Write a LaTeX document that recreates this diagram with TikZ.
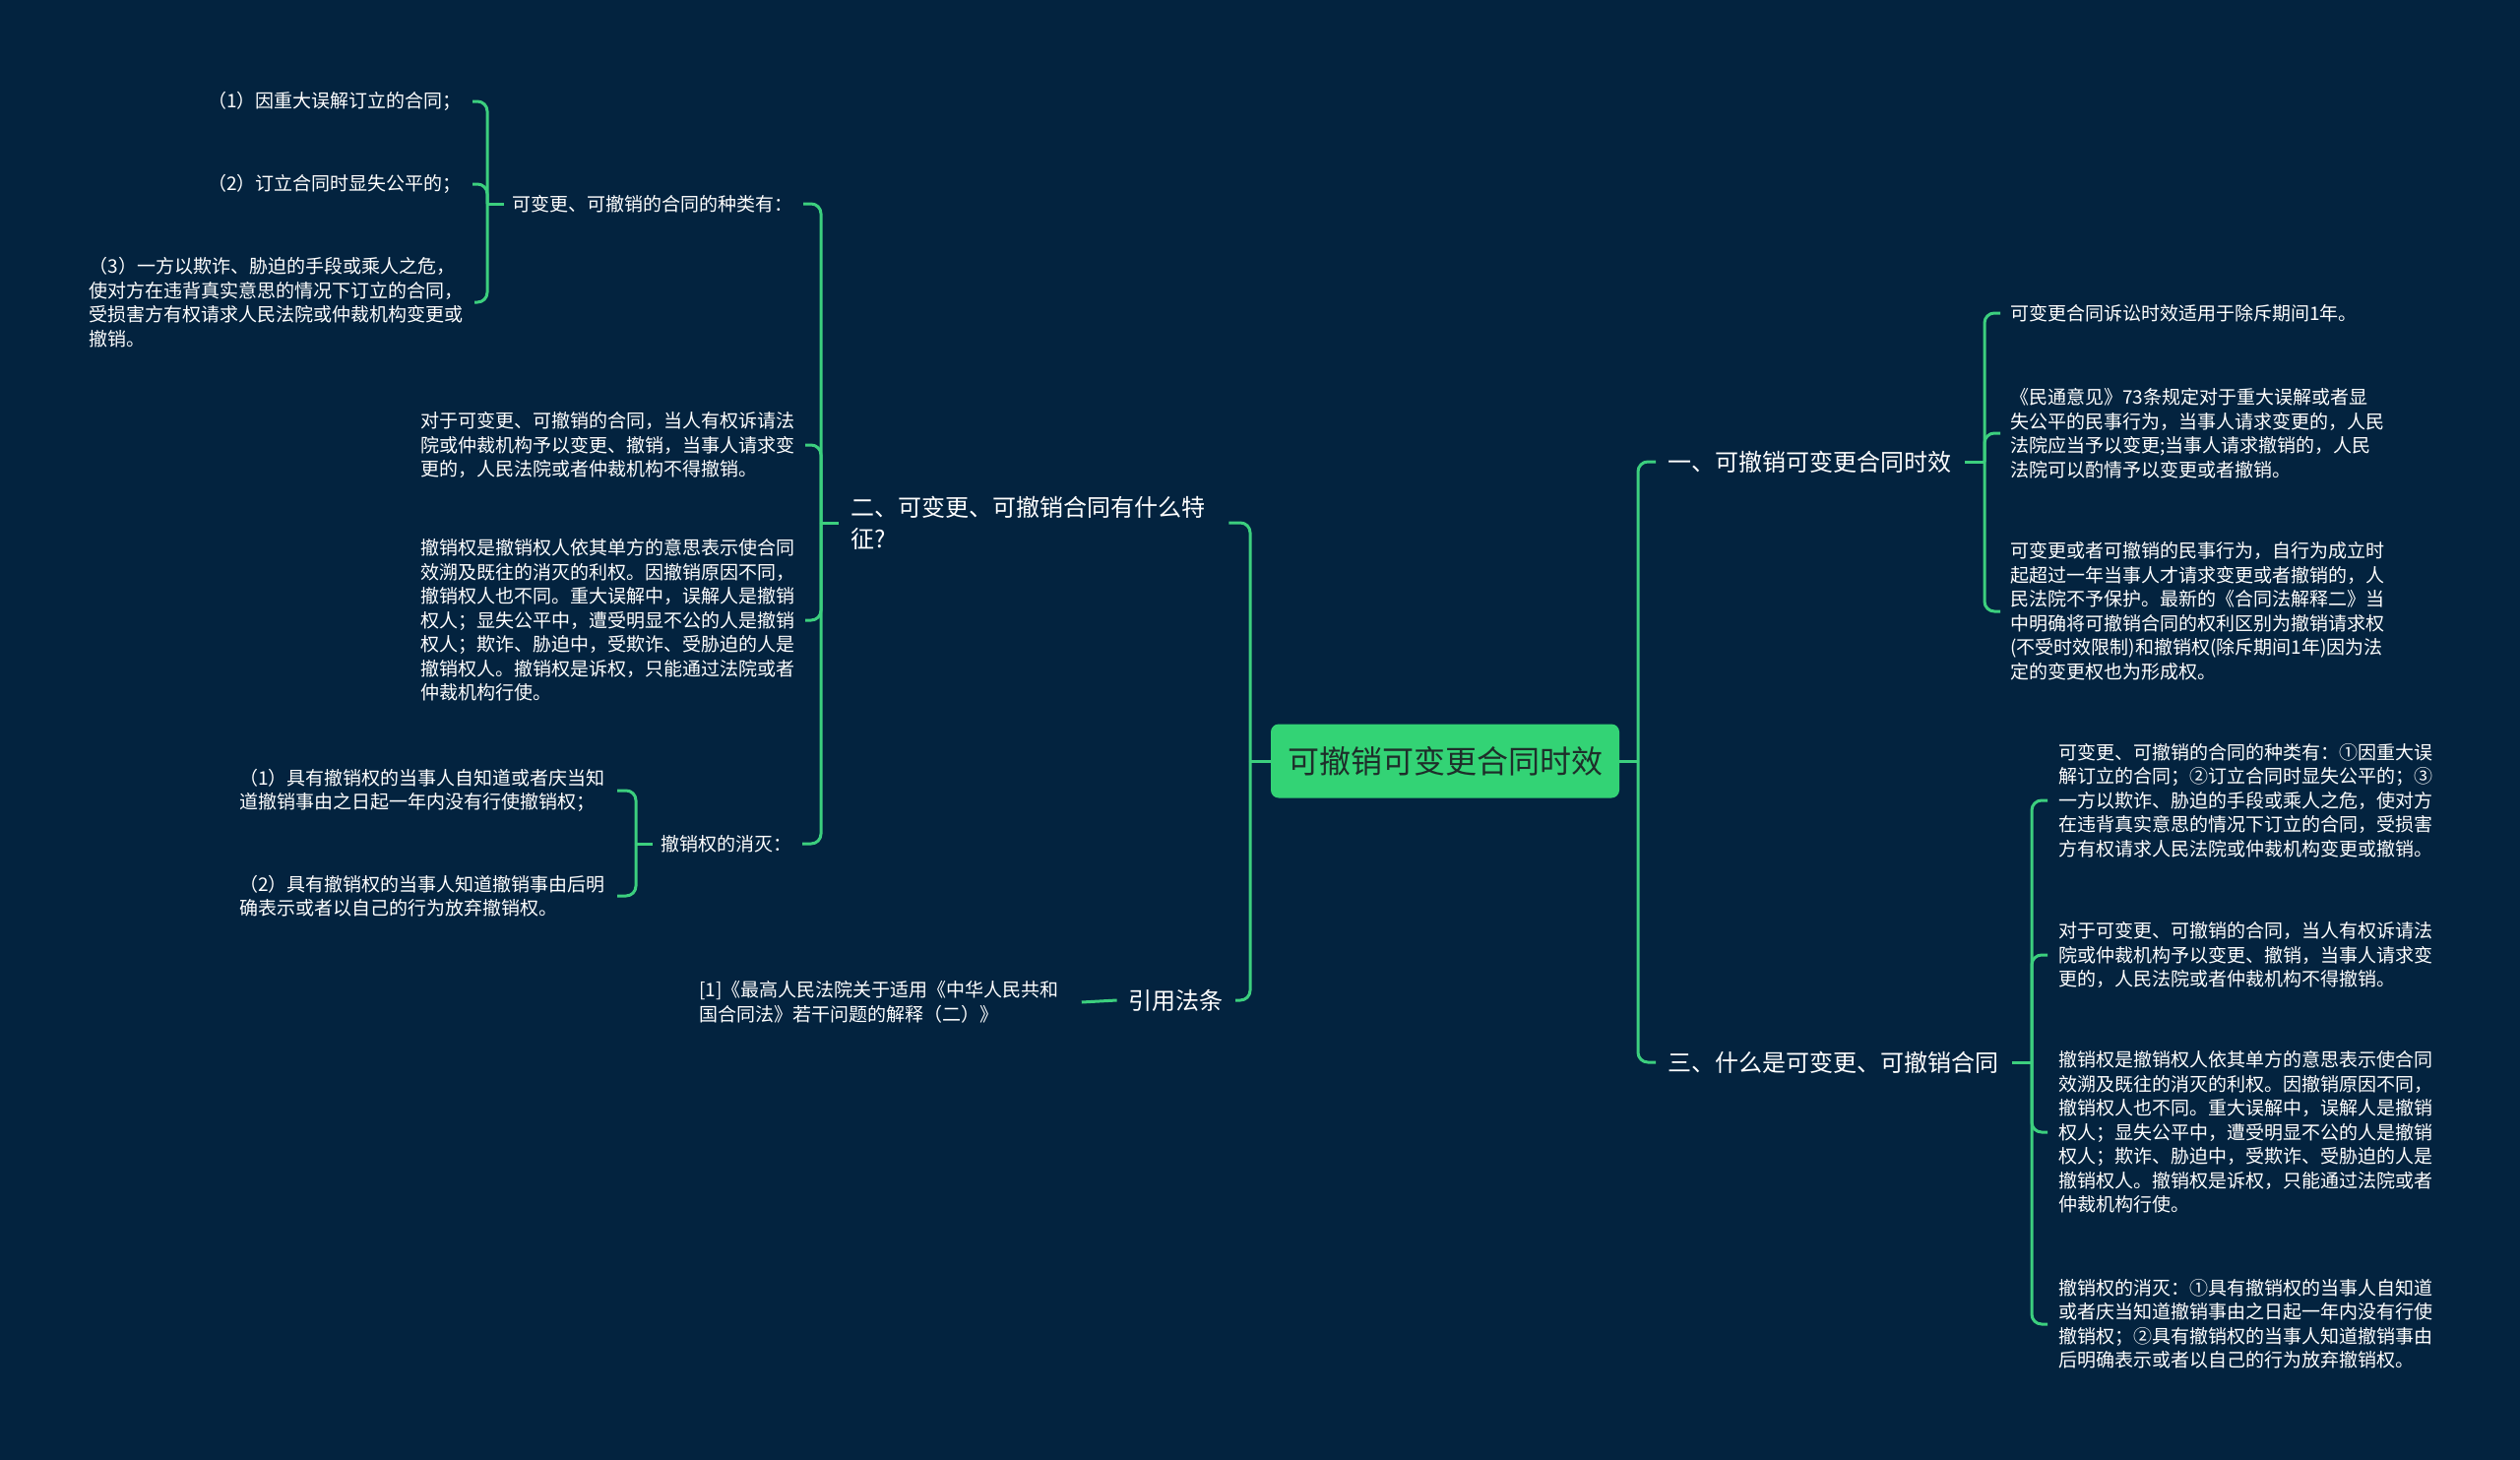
\documentclass[tikz,border=0pt]{standalone}
\usepackage{fontspec}
\setmainfont{Noto Sans CJK SC}
\usetikzlibrary{calc}
\definecolor{bg}{HTML}{03233F}
\definecolor{lnk}{HTML}{3CCF7E}
\definecolor{rootfill}{HTML}{33D375}
\definecolor{roottext}{HTML}{1E2E2A}
\begin{document}
\begin{tikzpicture}[x=1pt,y=-1pt,
  conn/.style={draw=lnk,line width=3pt,rounded corners=10pt},
  small/.style={text=white,inner sep=0pt,align=left,font=\fontsize{19}{24.5}\selectfont},
  mid/.style={text=white,inner sep=0pt,align=left,font=\fontsize{24}{32}\selectfont},
  rootbox/.style={fill=rootfill,rounded corners=8pt,text=roottext,minimum width=354pt,minimum height=75pt,inner sep=0pt,font=\fontsize{32}{38}\selectfont}]

\fill[bg] (0,0) rectangle (2560,1483);
\useasboundingbox (0,0) rectangle (2560,1483);

% root
\node[rootbox] (root) at (1468,773) {可撤销可变更合同时效};

% ---------- left side ----------
\node[mid,anchor=west] (n2) at (864,531) {二、可变更、可撤销合同有什么特\\征?};
\node[mid,anchor=east] (cite) at (1243,1016) {引用法条};
\node[small,anchor=west] (r1) at (710,1018) {[1]《最高人民法院关于适用《中华人民共和\\国合同法》若干问题的解释（二）》};

\node[small,anchor=east] (k1) at (806,207) {可变更、可撤销的合同的种类有：};
\node[small,anchor=east] (k2) at (808,452) {对于可变更、可撤销的合同，当人有权诉请法\\院或仲裁机构予以变更、撤销，当事人请求变\\更的，人民法院或者仲裁机构不得撤销。};
\node[small,anchor=east] (k3) at (808,630) {撤销权是撤销权人依其单方的意思表示使合同\\效溯及既往的消灭的利权。因撤销原因不同，\\撤销权人也不同。重大误解中，误解人是撤销\\权人；显失公平中，遭受明显不公的人是撤销\\权人；欺诈、胁迫中，受欺诈、受胁迫的人是\\撤销权人。撤销权是诉权，只能通过法院或者\\仲裁机构行使。};
\node[small,anchor=east] (k4) at (805,857) {撤销权的消灭：};

\node[small,anchor=east] (m1) at (469,103) {（1）因重大误解订立的合同；};
\node[small,anchor=east] (m2) at (469,187) {（2）订立合同时显失公平的；};
\node[small,anchor=east] (m3) at (471,307) {（3）一方以欺诈、胁迫的手段或乘人之危，\\使对方在违背真实意思的情况下订立的合同，\\受损害方有权请求人民法院或仲裁机构变更或\\撤销。};

\node[small,anchor=east] (p1) at (615,803) {（1）具有撤销权的当事人自知道或者庆当知\\道撤销事由之日起一年内没有行使撤销权；};
\node[small,anchor=east] (p2) at (615,910) {（2）具有撤销权的当事人知道撤销事由后明\\确表示或者以自己的行为放弃撤销权。};

% ---------- right side ----------
\node[mid,anchor=west] (n1) at (1694,469) {一、可撤销可变更合同时效};
\node[mid,anchor=west] (n3) at (1694,1079) {三、什么是可变更、可撤销合同};

\node[small,anchor=west] (a1) at (2042,318) {可变更合同诉讼时效适用于除斥期间1年。};
\node[small,anchor=west] (a2) at (2042,440) {《民通意见》73条规定对于重大误解或者显\\失公平的民事行为，当事人请求变更的，人民\\法院应当予以变更;当事人请求撤销的，人民\\法院可以酌情予以变更或者撤销。};
\node[small,anchor=west] (a3) at (2042,621) {可变更或者可撤销的民事行为，自行为成立时\\起超过一年当事人才请求变更或者撤销的，人\\民法院不予保护。最新的《合同法解释二》当\\中明确将可撤销合同的权利区别为撤销请求权\\(不受时效限制)和撤销权(除斥期间1年)因为法\\定的变更权也为形成权。};

\node[small,anchor=west] (b1) at (2091,813) {可变更、可撤销的合同的种类有：①因重大误\\解订立的合同；②订立合同时显失公平的；③\\一方以欺诈、胁迫的手段或乘人之危，使对方\\在违背真实意思的情况下订立的合同，受损害\\方有权请求人民法院或仲裁机构变更或撤销。};
\node[small,anchor=west] (b2) at (2091,970) {对于可变更、可撤销的合同，当人有权诉请法\\院或仲裁机构予以变更、撤销，当事人请求变\\更的，人民法院或者仲裁机构不得撤销。};
\node[small,anchor=west] (b3) at (2091,1150) {撤销权是撤销权人依其单方的意思表示使合同\\效溯及既往的消灭的利权。因撤销原因不同，\\撤销权人也不同。重大误解中，误解人是撤销\\权人；显失公平中，遭受明显不公的人是撤销\\权人；欺诈、胁迫中，受欺诈、受胁迫的人是\\撤销权人。撤销权是诉权，只能通过法院或者\\仲裁机构行使。};
\node[small,anchor=west] (b4) at (2091,1345) {撤销权的消灭：①具有撤销权的当事人自知道\\或者庆当知道撤销事由之日起一年内没有行使\\撤销权；②具有撤销权的当事人知道撤销事由\\后明确表示或者以自己的行为放弃撤销权。};

% ---------- junctions ----------
\coordinate (jL) at (1270,773);
\coordinate (jR) at (1664,773);
\coordinate (jn2) at (834,531);
\coordinate (jk1) at (495,207);
\coordinate (jk4) at (646,857);
\coordinate (jn1) at (2016,469);
\coordinate (jn3) at (2064,1079);

% ---------- connectors ----------
\draw[conn] (root.west) -- (jL);
\draw[conn] (jL) |- ([xshift=24pt]n2.east);
\draw[conn] (jL) |- ([xshift=12pt]cite.east);
\draw[conn] ([xshift=23pt]r1.east) -- ([xshift=-12pt]cite.west);

\draw[conn] ([xshift=-12pt]n2.west) -- (jn2);
\foreach \c in {k1,k2,k3,k4} \draw[conn] (jn2) |- ([xshift=10pt]\c.east);

\draw[conn] ([xshift=-9pt]k1.west) -- (jk1);
\foreach \c in {m1,m2,m3} \draw[conn] (jk1) |- ([xshift=11pt]\c.east);

\draw[conn] ([xshift=-9pt]k4.west) -- (jk4);
\foreach \c in {p1,p2} \draw[conn] (jk4) |- ([xshift=12pt]\c.east);

\draw[conn] (root.east) -- (jR);
\draw[conn] (jR) |- ([xshift=-12pt]n1.west);
\draw[conn] (jR) |- ([xshift=-12pt]n3.west);

\draw[conn] ([xshift=14pt]n1.east) -- (jn1);
\foreach \c in {a1,a2,a3} \draw[conn] (jn1) |- ([xshift=-10pt]\c.west);

\draw[conn] ([xshift=14pt]n3.east) -- (jn3);
\foreach \c in {b1,b2,b3,b4} \draw[conn] (jn3) |- ([xshift=-11pt]\c.west);
\end{tikzpicture}
\end{document}
